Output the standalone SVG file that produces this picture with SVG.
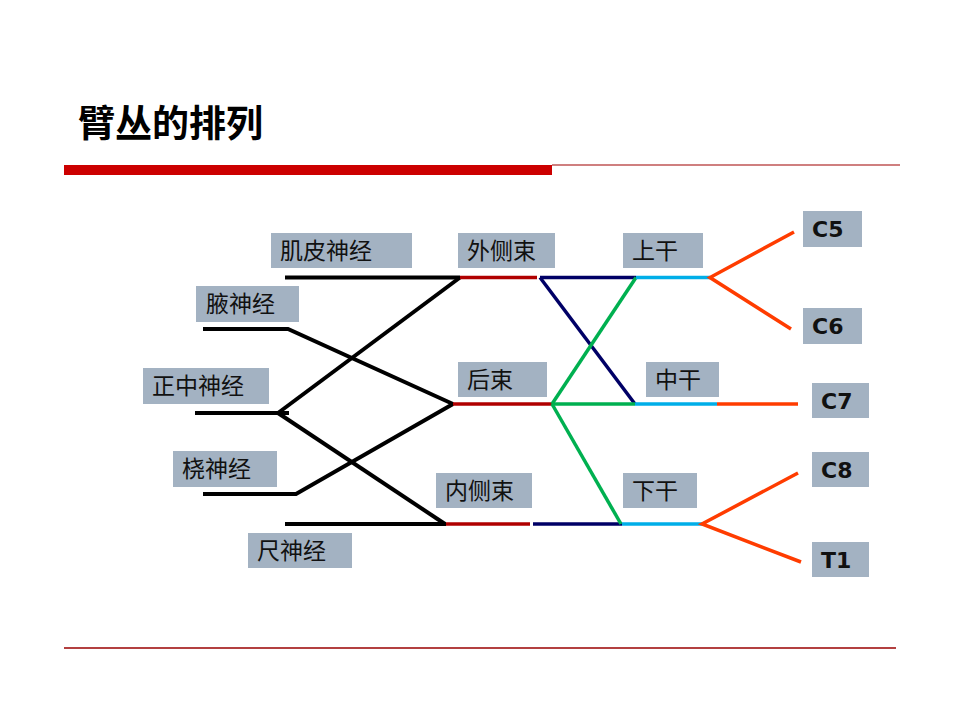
<svg xmlns="http://www.w3.org/2000/svg" width="960" height="720" viewBox="0 0 960 720">
<style>
.box{fill:#a3b2c2}
.lbl{font-family:"Noto Sans CJK SC","Noto Sans",sans-serif;font-size:23px;fill:#111}
.cl{font-family:"DejaVu Sans","Liberation Sans",sans-serif;font-size:22px;font-weight:bold;fill:#111}
.title{font-family:"Noto Sans CJK SC",sans-serif;font-size:37px;font-weight:bold;fill:#000}
.ln{fill:none;stroke-width:4;stroke-linejoin:miter;stroke-linecap:butt}
.k{stroke:#000}
.r{stroke:#b00000;stroke-width:3.5}
.n{stroke:#000066;stroke-width:3.5}
.g{stroke:#00b050;stroke-width:3.5}
.b{stroke:#00aee8;stroke-width:3.5}
.o{stroke:#ff3c00;stroke-width:3.5}
</style>
<rect width="960" height="720" fill="#fff"/>
<text class="title" x="78" y="137">臂丛的排列</text>
<rect x="64" y="165" width="488" height="10" fill="#cc0000"/>
<line x1="552" y1="165" x2="900" y2="165" stroke="#a00000" stroke-width="1.2"/>
<line x1="64" y1="648" x2="896" y2="648" stroke="#9a0000" stroke-width="1.5"/>

<g id="connectors">
<path class="ln k" d="M285,277.5 H460"/>
<path class="ln k" d="M203,329 H288 L453,404"/>
<path class="ln k" d="M195,413 H289"/>
<path class="ln k" d="M278,413 L460,277.5"/>
<path class="ln k" d="M278,413 L445,524"/>
<path class="ln k" d="M203,494 H296 L453,404"/>
<path class="ln k" d="M285,524 H446"/>
<path class="ln r" d="M460,277.5 H537"/>
<path class="ln r" d="M453,404 H552"/>
<path class="ln r" d="M446,524 H530"/>
<path class="ln n" d="M540,277.5 H636"/>
<path class="ln n" d="M540,277.5 L635,404"/>
<path class="ln n" d="M533,524 H622"/>
<path class="ln g" d="M636,277.5 L552,404"/>
<path class="ln g" d="M552,404 H635"/>
<path class="ln g" d="M552,404 L621,524"/>
<path class="ln b" d="M636,277.5 H710"/>
<path class="ln b" d="M635,404 H717"/>
<path class="ln b" d="M622,524 H702"/>
<path class="ln o" d="M794,232 L710,277.5 L791,329"/>
<path class="ln o" d="M717,404 H798"/>
<path class="ln o" d="M798,473 L702,524 L801,562"/>
</g>

<g id="n-jipi"><rect class="box" x="271" y="233" width="141" height="35"/><text class="lbl" x="280" y="259">肌皮神经</text></g>
<g id="n-waice"><rect class="box" x="458" y="233" width="97" height="35"/><text class="lbl" x="467" y="259">外侧束</text></g>
<g id="n-ye"><rect class="box" x="196" y="286" width="103" height="36"/><text class="lbl" x="206" y="312">腋神经</text></g>
<g id="n-zhengzhong"><rect class="box" x="143" y="368" width="126" height="36"/><text class="lbl" x="152" y="394">正中神经</text></g>
<g id="n-hou"><rect class="box" x="458" y="362" width="89" height="35"/><text class="lbl" x="467" y="388">后束</text></g>
<g id="n-rao"><rect class="box" x="173" y="451" width="104" height="36"/><text class="lbl" x="182" y="477">桡神经</text></g>
<g id="n-neice"><rect class="box" x="436" y="473" width="96" height="35"/><text class="lbl" x="445" y="499">内侧束</text></g>
<g id="n-chi"><rect class="box" x="248" y="533" width="104" height="35"/><text class="lbl" x="257" y="559">尺神经</text></g>
<g id="n-shanggan"><rect class="box" x="623" y="233" width="80" height="35"/><text class="lbl" x="632" y="259">上干</text></g>
<g id="n-zhonggan"><rect class="box" x="646" y="362" width="73" height="35"/><text class="lbl" x="655" y="388">中干</text></g>
<g id="n-xiagan"><rect class="box" x="623" y="473" width="74" height="35"/><text class="lbl" x="632" y="499">下干</text></g>
<g id="n-c5"><rect class="box" x="803" y="211" width="59" height="36"/><text class="cl" x="812" y="237">C5</text></g>
<g id="n-c6"><rect class="box" x="803" y="308" width="59" height="36"/><text class="cl" x="812" y="334">C6</text></g>
<g id="n-c7"><rect class="box" x="812" y="383" width="57" height="35"/><text class="cl" x="821" y="409">C7</text></g>
<g id="n-c8"><rect class="box" x="812" y="452" width="57" height="35"/><text class="cl" x="821" y="478">C8</text></g>
<g id="n-t1"><rect class="box" x="812" y="542" width="57" height="35"/><text class="cl" x="821" y="568">T1</text></g>
</svg>
